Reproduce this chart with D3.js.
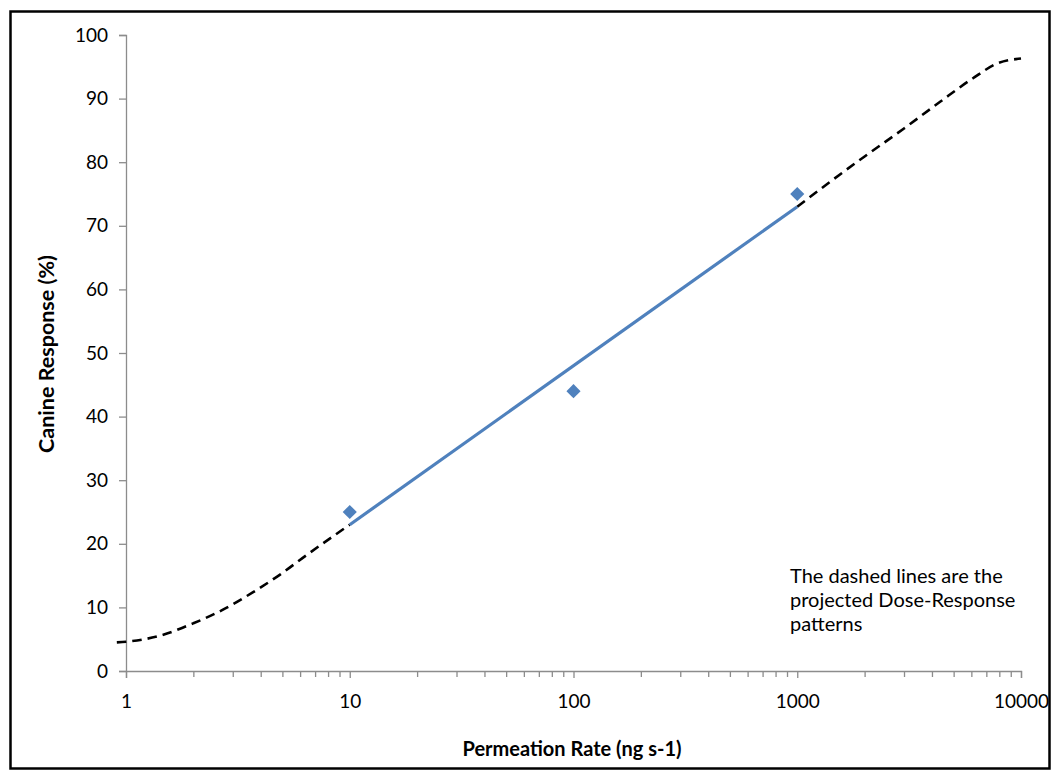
<!DOCTYPE html>
<html>
<head>
<meta charset="utf-8">
<script src="https://cdn.jsdelivr.net/npm/d3@7"></script>
<style>
  html, body { margin: 0; padding: 0; background: #fff; }
  svg { display: block; }
  text { font-family: Lato, "Open Sans", sans-serif; fill: #000; }
</style>
</head>
<body>
<svg id="chart" width="1059" height="776"></svg>
<script>
// Measured permeation rates (ng s-1) and canine response (%)
const rates = [10, 100, 1000];
const responses = [25, 44, 75];

// Log-linear fit over the measured range
const fitRates = [10, 1000];
const fitResponses = [23, 73];

// Projected dose-response below the measured range
const lowRates = [0.91, 1, 1.4, 2, 2.7, 3.7, 4.9, 6.4, 8.2, 10];
const lowResponses = [4.5, 4.6, 5.5, 7.5, 9.6, 12.4, 15.2, 18.2, 20.9, 23];

// Projected dose-response above the measured range
const highRates = [1000, 1400, 2000, 3000, 4350, 6100, 7800, 10000];
const highResponses = [73, 76.9, 80.9, 85.3, 89.5, 93.2, 95.5, 96.3];

const xTicks = [1, 10, 100, 1000, 10000];
const yTicks = [0, 10, 20, 30, 40, 50, 60, 70, 80, 90, 100];

const noteLines = ["The dashed lines are the", "projected Dose-Response", "patterns"];

const svg = d3.select("#chart");
const blue = "#4F81BD";
const axisGrey = "#8C8C8C";

// Outer chart frame
svg.append("rect")
  .attr("x", 10.5).attr("y", 11.5)
  .attr("width", 1039).attr("height", 757)
  .attr("fill", "none").attr("stroke", "#000").attr("stroke-width", 2.5);

const x = d3.scaleLog().domain([1, 10000]).range([126, 1021]);
const y = d3.scaleLinear().domain([0, 100]).range([671, 35]);

// Y axis
const yAxis = svg.append("g").attr("transform", "translate(126,0)")
  .call(d3.axisLeft(y).tickValues(yTicks).tickSize(7).tickPadding(11).tickFormat(d3.format("d")));
yAxis.select(".domain").attr("stroke", axisGrey).attr("stroke-width", 1.3);
yAxis.selectAll(".tick line").attr("stroke", axisGrey).attr("stroke-width", 1.3);
yAxis.selectAll(".tick text").attr("font-size", 19).attr("font-family", "Lato, sans-serif").attr("fill", "#000");

// X axis: minor ticks for each decade step, labels on powers of ten
const minorTicks = [];
for (let p = 1; p < 10000; p *= 10) for (let k = 2; k <= 9; k++) minorTicks.push(p * k);

const xAxisMinor = svg.append("g").attr("transform", "translate(0,671)")
  .call(d3.axisBottom(x).tickValues(minorTicks).tickSize(6).tickFormat(""));
xAxisMinor.select(".domain").remove();
xAxisMinor.selectAll(".tick line").attr("stroke", axisGrey).attr("stroke-width", 1.3);

const xAxis = svg.append("g").attr("transform", "translate(0,671)")
  .call(d3.axisBottom(x).tickValues(xTicks).tickSize(7).tickPadding(17).tickFormat(d3.format("d")));
xAxis.select(".domain").attr("stroke", axisGrey).attr("stroke-width", 1.3);
xAxis.selectAll(".tick line").attr("stroke", axisGrey).attr("stroke-width", 1.3);
xAxis.selectAll(".tick text").attr("font-size", 19).attr("font-family", "Lato, sans-serif").attr("fill", "#000");

// Axis titles
svg.append("text")
  .attr("x", 572).attr("y", 756)
  .attr("text-anchor", "middle")
  .attr("font-size", 20).attr("font-weight", "bold")
  .text("Permeation Rate (ng s-1)");

svg.append("text")
  .attr("transform", "translate(54,354) rotate(-90)")
  .attr("text-anchor", "middle")
  .attr("font-size", 21.5).attr("font-weight", "bold")
  .text("Canine Response (%)");

const line = d3.line()
  .x(d => x(d[0]))
  .y(d => y(d[1]))
  .curve(d3.curveMonotoneX);

// Projected dashed curves
[[lowRates, lowResponses], [highRates, highResponses]].forEach(([xs, ys]) => {
  svg.append("path")
    .datum(xs.map((v, i) => [v, ys[i]]))
    .attr("d", line)
    .attr("fill", "none")
    .attr("stroke", "#000")
    .attr("stroke-width", 2.6)
    .attr("stroke-dasharray", "9.5,6");
});

// Fitted solid line
svg.append("path")
  .datum(fitRates.map((v, i) => [v, fitResponses[i]]))
  .attr("d", d3.line().x(d => x(d[0])).y(d => y(d[1])))
  .attr("fill", "none")
  .attr("stroke", blue)
  .attr("stroke-width", 3.2);

// Measured points as diamonds
svg.append("g").selectAll("path")
  .data(rates.map((v, i) => [v, responses[i]]))
  .join("path")
  .attr("d", d3.symbol(d3.symbolSquare, 100))
  .attr("transform", d => `translate(${x(d[0])},${y(d[1])}) rotate(45)`)
  .attr("fill", blue);

// Annotation
svg.append("text")
  .attr("x", 790).attr("y", 583)
  .attr("font-size", 20)
  .selectAll("tspan")
  .data(noteLines)
  .join("tspan")
  .attr("x", 790)
  .attr("dy", (d, i) => i === 0 ? 0 : 24)
  .text(d => d);
</script>
</body>
</html>
